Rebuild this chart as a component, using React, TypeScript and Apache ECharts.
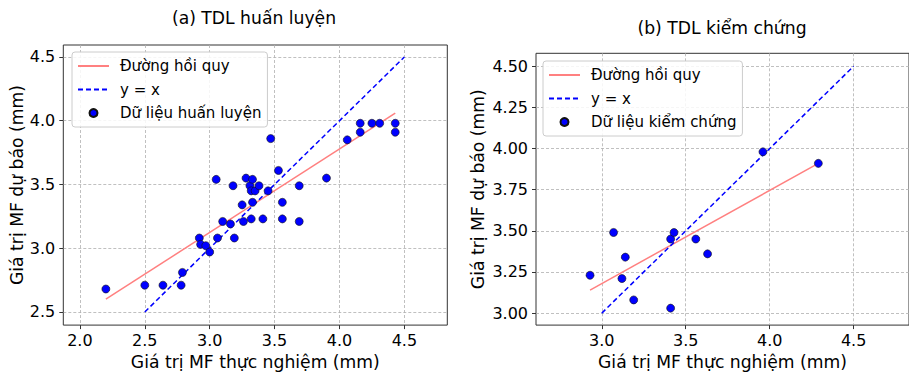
import React, { useEffect, useRef } from "react";
import * as echarts from "echarts";

// (a) training data
const trainX = [2.20, 2.50, 2.64, 2.78, 2.79, 2.92, 2.93, 2.97, 3.00, 3.06, 3.05, 3.10, 3.16, 3.18, 3.19, 3.25, 3.26, 3.28, 3.31, 3.33, 3.32, 3.33, 3.32, 3.35, 3.38, 3.41, 3.45, 3.47, 3.53, 3.56, 3.56, 3.69, 3.69, 3.90, 4.06, 4.16, 4.16, 4.25, 4.31, 4.43, 4.43];
const trainY = [2.68, 2.71, 2.71, 2.71, 2.81, 3.08, 3.03, 3.02, 2.97, 3.08, 3.54, 3.21, 3.19, 3.49, 3.08, 3.34, 3.21, 3.55, 3.49, 3.54, 3.45, 3.36, 3.23, 3.45, 3.49, 3.23, 3.45, 3.86, 3.61, 3.36, 3.23, 3.49, 3.21, 3.55, 3.85, 3.91, 3.98, 3.98, 3.98, 3.98, 3.91];
const trainRegX = [2.20, 4.43];
const trainRegY = [2.60, 4.06];
const trainIdentity = [2.5, 4.5];

// (b) validation data
const testX = [2.93, 3.07, 3.14, 3.12, 3.19, 3.41, 3.41, 3.43, 3.56, 3.63, 3.96, 4.29];
const testY = [3.23, 3.49, 3.34, 3.21, 3.08, 3.03, 3.45, 3.49, 3.45, 3.36, 3.98, 3.91];
const testRegX = [2.93, 4.29];
const testRegY = [3.14, 3.91];
const testIdentity = [3.0, 4.5];

// tick labels
const xTicksA = [2.0, 2.5, 3.0, 3.5, 4.0, 4.5];
const yTicksA = [2.5, 3.0, 3.5, 4.0, 4.5];
const xTicksB = [3.0, 3.5, 4.0, 4.5];
const yTicksB = [3.0, 3.25, 3.5, 3.75, 4.0, 4.25, 4.5];

const titles = ["(a) TDL huấn luyện", "(b) TDL kiểm chứng"];
const xName = "Giá trị MF thực nghiệm (mm)";
const yName = "Giá trị MF dự báo (mm)";
const regName = "Đường hồi quy";
const idName = "y = x";
const trainName = "Dữ liệu huấn luyện";
const testName = "Dữ liệu kiểm chứng";

const FONT = "DejaVu Sans";
const LABEL_SIZE = 17.2;

const zip = (a: number[], b: number[]) => a.map((v, i) => [v, b[i]]);

function makeAxis(
  idx: number,
  min: number,
  max: number,
  ticks: number[],
  decimals: number,
  name: string,
  nameGap: number,
  isY: boolean
) {
  return {
    type: "value",
    gridIndex: idx,
    min,
    max,
    minInterval: ticks[1] - ticks[0],
    maxInterval: ticks[1] - ticks[0],
    name,
    nameLocation: "middle",
    nameGap,
    nameTextStyle: { fontFamily: FONT, fontSize: LABEL_SIZE, color: "#000" },
    axisLine: { show: false },
    axisTick: {
      show: true,
      inside: false,
      length: 4,
      customValues: ticks,
      lineStyle: { color: "#333", width: 1 },
    },
    axisLabel: {
      show: true,
      customValues: ticks,
      margin: isY ? 8 : 7,
      fontFamily: FONT,
      fontSize: 16,
      color: "#000",
      formatter: (v: number) => v.toFixed(decimals),
    },
    splitLine: {
      show: true,
      lineStyle: { color: "#b0b0b0", type: [3, 2], width: 0.8 },
    },
  };
}

function legendCfg(left: number, top: number, dataName: string) {
  return {
    orient: "vertical",
    left,
    top,
    data: [
      { name: regName, itemStyle: { opacity: 0 } },
      { name: idName, itemStyle: { opacity: 0 } },
      { name: dataName },
    ],
    padding: [5, 6, 5, 5],
    itemWidth: 31,
    itemHeight: 8,
    itemGap: 5.5,
    borderColor: "#cccccc",
    borderWidth: 1,
    borderRadius: 3,
    backgroundColor: "rgba(255,255,255,0.85)",
    selectedMode: false,
    textStyle: {
      fontFamily: FONT,
      fontSize: 15,
      color: "#000",
      lineHeight: 18,
      padding: [0, 0, 0, 6],
    },
  };
}

export default function App() {
  const ref = useRef<HTMLDivElement>(null);

  useEffect(() => {
    if (!ref.current) return;
    const chart = echarts.init(ref.current, null, { renderer: "svg" });

    const regStyle = { color: "#ff8080", width: 1.5, type: "solid" };
    const idStyle = { color: "#0000ff", width: 1.5, type: [5, 3] };
    const scatterStyle = { color: "#0000ff", borderColor: "#111", borderWidth: 0.6, opacity: 1 };

    chart.setOption({
      animation: false,
      backgroundColor: "#ffffff",
      title: [
        {
          text: titles[0],
          left: 249,
          top: 4,
          textAlign: "center",
          textStyle: { fontFamily: FONT, fontSize: LABEL_SIZE, fontWeight: "normal", color: "#000" },
        },
        {
          text: titles[1],
          left: 717,
          top: 14,
          textAlign: "center",
          textStyle: { fontFamily: FONT, fontSize: LABEL_SIZE, fontWeight: "normal", color: "#000" },
        },
      ],
      legend: [legendCfg(72, 52, trainName), legendCfg(543, 61, testName)],
      grid: [
        {
          left: 63.3,
          top: 45,
          width: 384,
          height: 286.7,
          show: true,
          borderColor: "#333",
          borderWidth: 1,
          backgroundColor: "transparent",
        },
        {
          left: 536,
          top: 53.3,
          width: 376,
          height: 279,
          show: true,
          borderColor: "#333",
          borderWidth: 1,
          backgroundColor: "transparent",
        },
      ],
      xAxis: [
        makeAxis(0, 1.872, 4.831, xTicksA, 1, xName, 26, false),
        makeAxis(1, 2.608, 4.83, xTicksB, 1, xName, 26, false),
      ],
      yAxis: [
        makeAxis(0, 2.397, 4.594, yTicksA, 1, yName, 37, true),
        makeAxis(1, 2.927, 4.579, yTicksB, 2, yName, 50, true),
      ],
      series: [
        {
          name: regName,
          type: "line",
          xAxisIndex: 0,
          yAxisIndex: 0,
          data: zip(trainRegX, trainRegY),
          symbol: "none",
          lineStyle: regStyle,
          itemStyle: { color: regStyle.color },
          z: 2,
        },
        {
          name: idName,
          type: "line",
          xAxisIndex: 0,
          yAxisIndex: 0,
          data: zip(trainIdentity, trainIdentity),
          symbol: "none",
          lineStyle: idStyle,
          itemStyle: { color: idStyle.color },
          z: 2,
        },
        {
          name: trainName,
          type: "scatter",
          xAxisIndex: 0,
          yAxisIndex: 0,
          data: zip(trainX, trainY),
          symbol: "circle",
          symbolSize: 8,
          itemStyle: scatterStyle,
          z: 3,
        },
        {
          name: regName,
          type: "line",
          xAxisIndex: 1,
          yAxisIndex: 1,
          data: zip(testRegX, testRegY),
          symbol: "none",
          lineStyle: regStyle,
          itemStyle: { color: regStyle.color },
          z: 2,
        },
        {
          name: idName,
          type: "line",
          xAxisIndex: 1,
          yAxisIndex: 1,
          data: zip(testIdentity, testIdentity),
          symbol: "none",
          lineStyle: idStyle,
          itemStyle: { color: idStyle.color },
          z: 2,
        },
        {
          name: testName,
          type: "scatter",
          xAxisIndex: 1,
          yAxisIndex: 1,
          data: zip(testX, testY),
          symbol: "circle",
          symbolSize: 8,
          itemStyle: scatterStyle,
          z: 3,
        },
      ],
    });

    return () => chart.dispose();
  }, []);

  return (
    <div
      ref={ref}
      style={{ width: 909, height: 375, position: "absolute", left: 0, top: 0, background: "#fff" }}
    />
  );
}
